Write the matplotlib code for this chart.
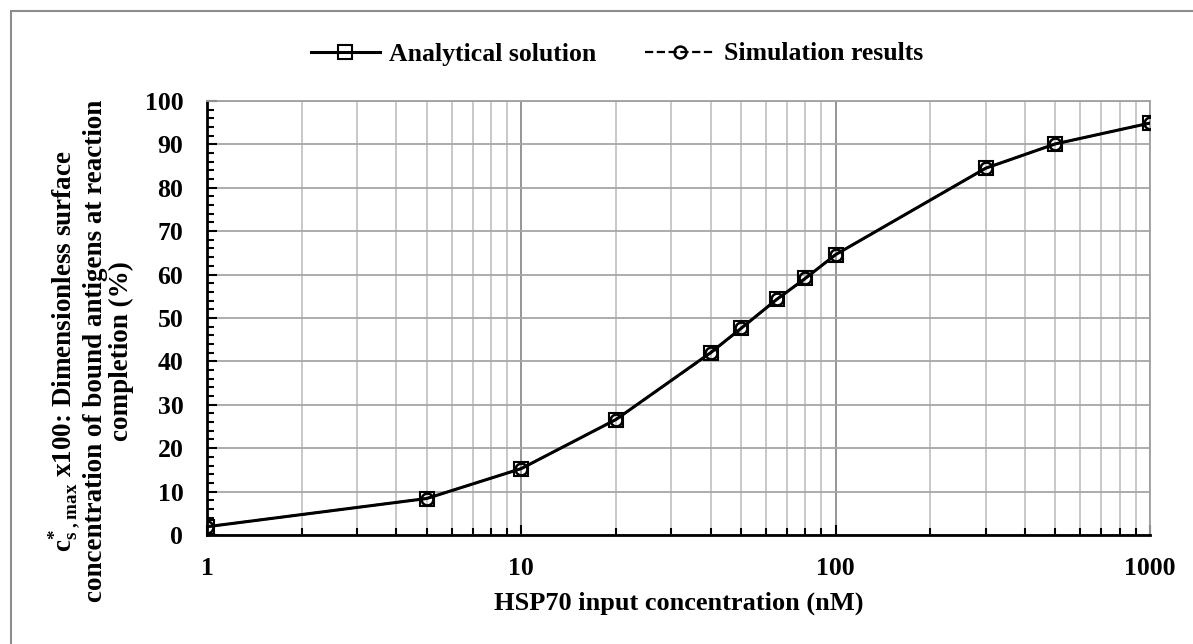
import numpy as np
import matplotlib.pyplot as plt
from matplotlib.ticker import MultipleLocator, LogLocator, FixedLocator, NullFormatter

plt.rcParams['font.family'] = ['Liberation Serif', 'DejaVu Serif']
plt.rcParams['font.weight'] = 'bold'
plt.rcParams['mathtext.fontset'] = 'custom'
plt.rcParams['mathtext.rm'] = 'Liberation Serif:bold'
plt.rcParams['mathtext.bf'] = 'Liberation Serif:bold'
plt.rcParams['mathtext.it'] = 'Liberation Serif:bold'

# HSP70 input concentration (nM)
conc = [1, 5, 10, 20, 40, 50, 65, 80, 100, 300, 500, 1000]
# dimensionless surface concentration x100 (%)
analytical = [1.9, 8.4, 15.3, 26.6, 42.0, 47.6, 54.3, 59.1, 64.6, 84.5, 90.1, 94.9]
simulation = [1.9, 8.4, 15.3, 26.6, 41.9, 47.6, 54.3, 59.1, 64.6, 84.5, 90.1, 94.9]

xticks = [1, 10, 100, 1000]
xticklabels = ['1', '10', '100', '1000']

fig = plt.figure(figsize=(11.93, 6.44), dpi=100)
ax = fig.add_axes([0.1735, 0.1693, 0.7905, 0.674])

ax.plot(conc, analytical, '-', color='black', lw=2.2, marker='s', ms=9.5,
        mfc='none', mec='black', mew=1.5, label='Analytical solution', zorder=3)
ax.plot(conc, simulation, '--', color='black', lw=1.6, marker='o', ms=8.5,
        mfc='none', mec='black', mew=1.8, label='Simulation results', zorder=4)

ax.set_xscale('log')
ax.set_xlim(1, 1000)
ax.set_ylim(0, 100)
ax.xaxis.set_major_locator(FixedLocator(xticks))
ax.set_xticklabels(xticklabels)
ax.xaxis.set_minor_locator(LogLocator(base=10, subs=np.arange(2, 10)))
ax.xaxis.set_minor_formatter(NullFormatter())
ax.yaxis.set_major_locator(MultipleLocator(10))
ax.yaxis.set_minor_locator(MultipleLocator(2))

ax.grid(which='major', axis='x', color='#8c8c8c', lw=1.3)
ax.grid(which='minor', axis='x', color='#c4c4c4', lw=1.3)
ax.grid(which='major', axis='y', color='#a6a6a6', lw=1.3)
ax.set_axisbelow(True)

for s in ['top', 'right']:
    ax.spines[s].set_color('#a0a0a0')
    ax.spines[s].set_linewidth(1.3)
for s in ['left', 'bottom']:
    ax.spines[s].set_color('black')
    ax.spines[s].set_linewidth(2)

ax.tick_params(axis='both', which='both', direction='in', colors='black', width=1.5)
ax.tick_params(axis='y', which='major', length=7, pad=17, labelsize=18.5)
ax.tick_params(axis='y', which='minor', length=5)
ax.tick_params(axis='x', which='major', length=7, pad=16, labelsize=18.5)
ax.tick_params(axis='x', which='minor', length=5)
ax.tick_params(axis='y', which='both', right=False)
ax.tick_params(axis='x', which='both', top=False)

fig.text(0.569, 1 - 603 / 644, 'HSP70 input concentration (nM)', fontsize=19,
         fontweight='bold', ha='center', va='center')
fig.text(91 / 1193, 1 - 351 / 644,
         r'$\mathbf{c^{*}_{s\ ,max}}$ x100: Dimensionless surface' + '\n'
         + 'concentration of bound antigens at reaction' + '\n'
         + 'completion (%)', fontsize=19.5, fontweight='bold', rotation=90,
         ha='center', va='center', multialignment='center', linespacing=1.02)

fig.legend(loc='center', bbox_to_anchor=(0.517, 1 - 54 / 644), ncol=2, frameon=False,
           fontsize=18.5, handlelength=2.7, columnspacing=1.9, handletextpad=0.35)

fig.patches.append(plt.Rectangle((11 / 1193, -0.01), 1.0, 1 - 11 / 644 + 0.01,
                                 transform=fig.transFigure, fill=False,
                                 edgecolor='#8c8c8c', lw=1.5))

fig.savefig('out.png', dpi=100)
